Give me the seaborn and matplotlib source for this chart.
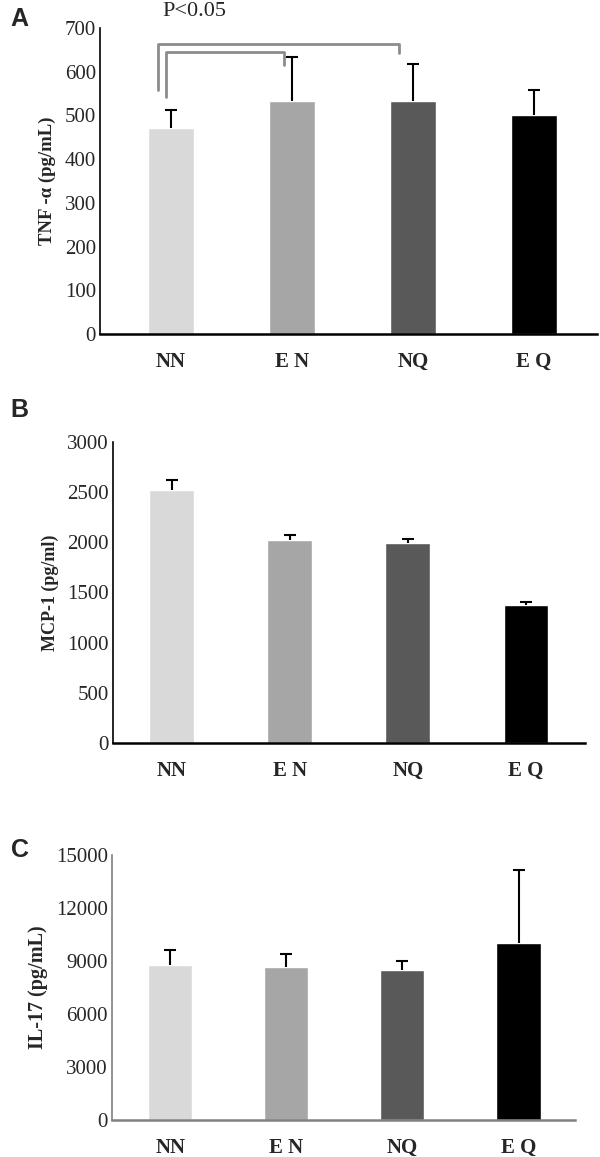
import seaborn as sns
import matplotlib.pyplot as plt

# Data
groups = ["NN", "EN", "NQ", "EQ"]
tick_labels = ["NN", "E N", "NQ", "E Q"]
bar_colors = ["#d9d9d9", "#a6a6a6", "#595959", "#000000"]

tnf_mean = [472, 534, 534, 501]
tnf_err = [40, 100, 84, 57]
mcp_mean = [2522, 2022, 1990, 1378]
mcp_err = [98, 48, 46, 28]
il17_mean = [8760, 8670, 8490, 10040]
il17_err = [880, 730, 510, 4090]

# significance brackets (x in category units, y in data units)
brk_outer = ([-0.11, -0.11, 1.88, 1.88], [558, 664, 664, 642])
brk_inner = ([-0.04, -0.04, 0.93, 0.93], [543, 645, 645, 615])

sns.set_style("white")
plt.rcParams["font.family"] = ["Liberation Serif", "DejaVu Serif"]

fig = plt.figure(figsize=(6, 11.57), dpi=100)

panels = [
    dict(rect=[0.167, 0.7113, 0.828, 0.2645], mean=tnf_mean, err=tnf_err,
         ylim=(0, 700), ticks=range(0, 701, 100), ylabel="TNF -α (pg/mL)",
         xlim=(-0.585, 3.52), spine="#000000", letter="A", ly=0.984, yls=13.5),
    dict(rect=[0.188, 0.3578, 0.787, 0.2602], mean=mcp_mean, err=mcp_err,
         ylim=(0, 3000), ticks=range(0, 3001, 500), ylabel="MCP-1 (pg/ml)",
         xlim=(-0.5, 3.5), spine="#000000", letter="B", ly=0.646, yls=13),
    dict(rect=[0.187, 0.032, 0.772, 0.229], mean=il17_mean, err=il17_err,
         ylim=(0, 15000), ticks=range(0, 15001, 3000), ylabel="IL-17 (pg/mL)",
         xlim=(-0.5, 3.49), spine="#808080", letter="C", ly=0.265, yls=14.5),
]

for p in panels:
    ax = fig.add_axes(p["rect"])
    sns.barplot(x=groups, y=p["mean"], hue=groups, palette=bar_colors,
                width=0.38, legend=False, ax=ax, saturation=1)
    _, caps, _ = ax.errorbar(range(len(groups)), p["mean"],
                             yerr=[[0] * len(groups), p["err"]], fmt="none",
                             ecolor="black", elinewidth=1.5, capsize=4,
                             capthick=1.5)
    caps[0].set_visible(False)  # only the upper cap is drawn
    ax.set_ylim(*p["ylim"])
    ax.set_xlim(*p["xlim"])
    ax.set_yticks(list(p["ticks"]))
    ax.set_xticks(range(len(groups)))
    ax.set_xticklabels(tick_labels, fontweight="bold", fontsize=15)
    ax.tick_params(axis="y", labelsize=15, length=0, pad=3)
    ax.tick_params(axis="x", length=0, pad=13)
    ax.set_ylabel(p["ylabel"], fontweight="bold", fontsize=p["yls"], labelpad=6)
    sns.despine(ax=ax)
    ax.spines["left"].set_color(p["spine"])
    ax.spines["left"].set_linewidth(1.2)
    ax.spines["bottom"].set_color(p["spine"])
    ax.spines["bottom"].set_linewidth(1.8)
    fig.text(0.018, p["ly"], p["letter"], fontsize=18, fontweight="bold",
             family=["Liberation Sans", "DejaVu Sans"], va="center")
    if p["letter"] == "A":
        for bx, by in (brk_outer, brk_inner):
            ax.plot(bx, by, color="#8c8c8c", lw=2, clip_on=False)
        ax.text(0.19, 737, "P<0.05", ha="center", va="center", fontsize=16,
                clip_on=False)

fig.savefig("out.png", dpi=100)
